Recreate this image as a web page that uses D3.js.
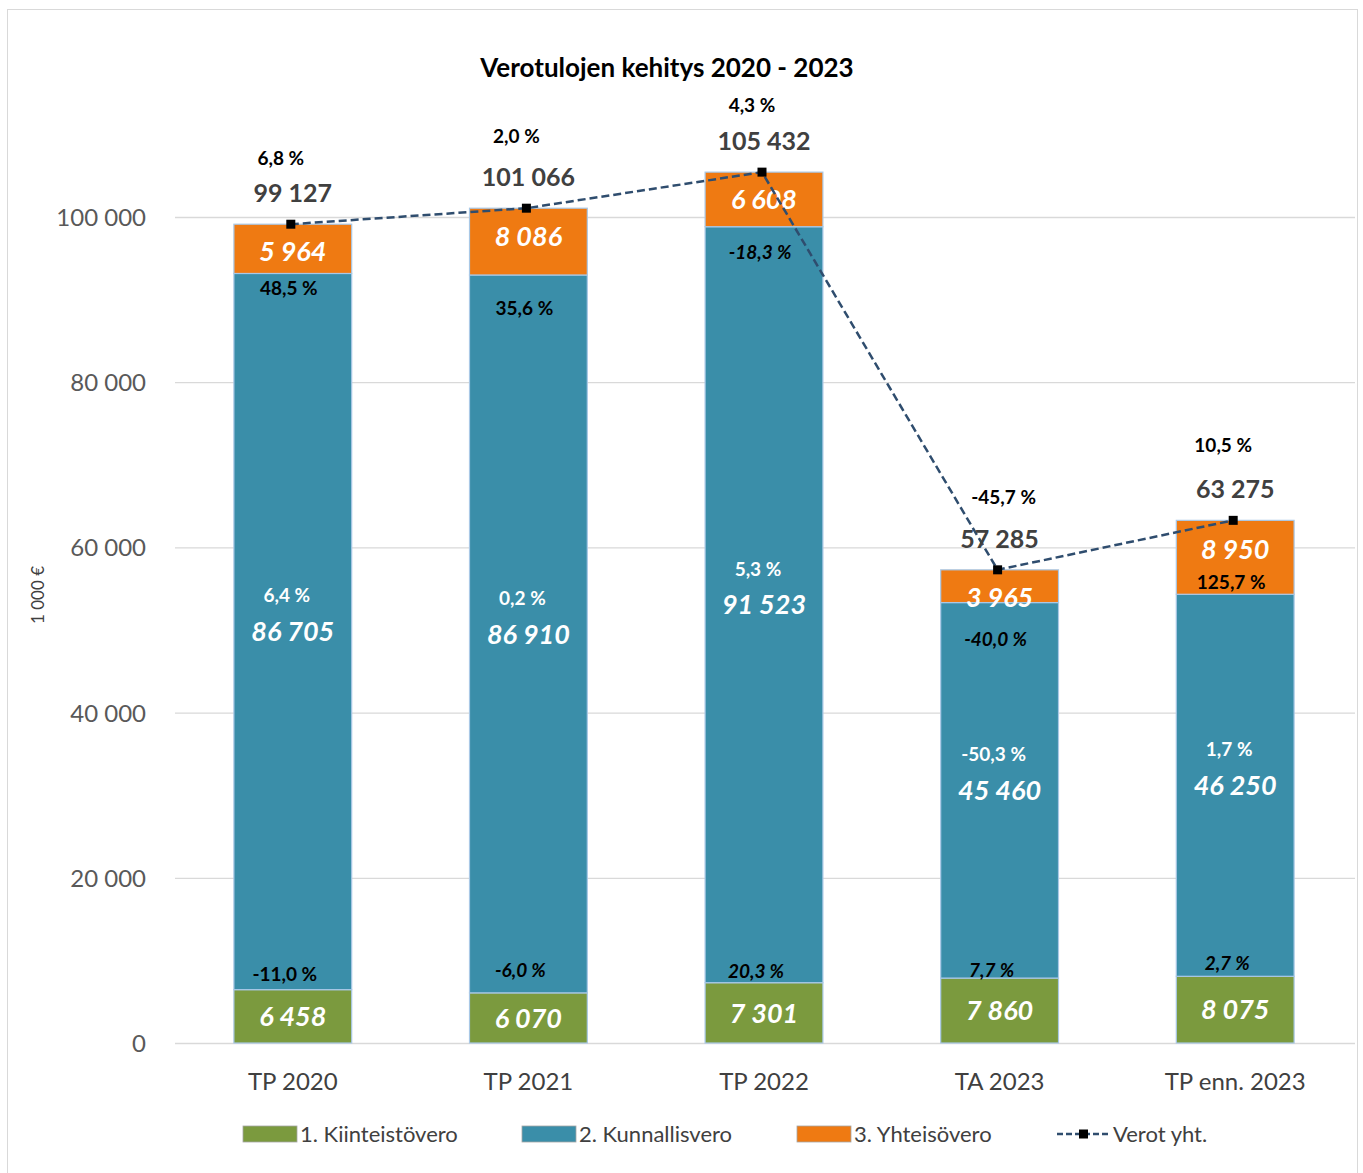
<!DOCTYPE html>
<html>
<head>
<meta charset="utf-8">
<script src="https://cdn.jsdelivr.net/npm/d3@7"></script>
<style>
  body { margin: 0; background: #fff; }
  text { font-family: Lato, "Open Sans", sans-serif; }
</style>
</head>
<body>
<script>
var years = ["TP 2020", "TP 2021", "TP 2022", "TA 2023", "TP enn. 2023"];
var kiinteisto = [6458, 6070, 7301, 7860, 8075];
var kunnallis = [86705, 86910, 91523, 45460, 46250];
var yhteiso = [5964, 8086, 6608, 3965, 8950];
var totals = [99127, 101066, 105432, 57285, 63275];
var kiintPct = ["-11,0 %", "-6,0 %", "20,3 %", "7,7 %", "2,7 %"];
var kunPct = ["6,4 %", "0,2 %", "5,3 %", "-50,3 %", "1,7 %"];
var yhtPct = ["48,5 %", "35,6 %", "-18,3 %", "-40,0 %", "125,7 %"];
var totPct = ["6,8 %", "2,0 %", "4,3 %", "-45,7 %", "10,5 %"];
var yTicks = [0, 20000, 40000, 60000, 80000, 100000];
var seriesNames = ["1. Kiinteistövero", "2. Kunnallisvero", "3. Yhteisövero"];

// label nudges (layout only)
var yhtPctDy = [15, 33, 25, 37, -12];
var yhtValDy = [2, -5, 0, 11, -8];
var yhtPctItalic = [false, false, true, true, false];
var kiintPctDy = [-15, -23, -12, -8, -13];
var totPctDy = [-35, -41, -36, -42, -44];

var W = 1363, H = 1173;
var colors = ["#7b9a3e", "#3a8ea9", "#ef7a12"];
var fmt = function(v) { return d3.format(",")(v).replace(/,/g, " "); };

var svg = d3.select("body").append("svg")
  .attr("width", W)
  .attr("height", H);

svg.append("rect")
  .attr("x", 7.5).attr("y", 9.5)
  .attr("width", 1350).attr("height", 1180)
  .attr("fill", "#fff")
  .attr("stroke", "#d9d9d9");

var x = d3.scaleBand().domain(years).range([175, 1353]).paddingInner(0.5).paddingOuter(0.25);
var y = d3.scaleLinear().domain([0, 100000]).range([1043, 217]);

// grid
svg.append("g").selectAll("line")
  .data(yTicks)
  .enter().append("line")
  .attr("x1", 175).attr("x2", 1355)
  .attr("y1", function(d) { return y(d) + 0.5; })
  .attr("y2", function(d) { return y(d) + 0.5; })
  .attr("stroke", "#d9d9d9")
  .attr("stroke-width", 1.3);

var yAxis = svg.append("g")
  .attr("transform", "translate(149,0)")
  .call(d3.axisLeft(y).tickValues(yTicks).tickSize(0).tickFormat(fmt));
yAxis.select(".domain").remove();
yAxis.selectAll("text")
  .attr("fill", "#595959")
  .style("font-size", "24px")
  .attr("dy", "0.35em");

var xAxis = svg.append("g")
  .attr("transform", "translate(0,1043)")
  .call(d3.axisBottom(x).tickSize(0).tickPadding(30));
xAxis.select(".domain").remove();
xAxis.selectAll("text")
  .attr("fill", "#404040")
  .style("font-size", "24px")
  .attr("dy", "0.7em");

svg.append("text")
  .attr("transform", "translate(44,595) rotate(-90)")
  .attr("text-anchor", "middle")
  .attr("fill", "#404040")
  .style("font-size", "17px")
  .text("1 000 €");

svg.append("text")
  .attr("x", 667).attr("y", 77)
  .attr("text-anchor", "middle")
  .attr("fill", "#000")
  .style("font-size", "26px")
  .style("font-weight", "bold")
  .text("Verotulojen kehitys 2020 - 2023");

// stacked bars
var table = years.map(function(yr, i) {
  return { year: yr, k: kiinteisto[i], u: kunnallis[i], h: yhteiso[i] };
});
var stack = d3.stack().keys(["k", "u", "h"])(table);

var layers = svg.append("g").selectAll("g")
  .data(stack)
  .enter().append("g")
  .attr("fill", function(d, i) { return colors[i]; });

layers.selectAll("rect")
  .data(function(d) { return d; })
  .enter().append("rect")
  .attr("x", function(d) { return x(d.data.year); })
  .attr("width", x.bandwidth())
  .attr("y", function(d) { return y(d[1]); })
  .attr("height", function(d) { return y(d[0]) - y(d[1]); })
  .attr("stroke", "#a9c8e6")
  .attr("stroke-width", 1.2);

// segment value labels
layers.selectAll("text")
  .data(function(d, k) { return d.map(function(p, i) { return { p: p, k: k, i: i }; }); })
  .enter().append("text")
  .attr("x", function(d) { return x(d.p.data.year) + x.bandwidth() / 2; })
  .attr("y", function(d) {
    var mid = (y(d.p[0]) + y(d.p[1])) / 2;
    return d.k === 2 ? mid + yhtValDy[d.i] : mid;
  })
  .attr("dy", "0.36em")
  .attr("text-anchor", "middle")
  .attr("fill", "#fff")
  .style("font-size", "27px")
  .style("font-weight", "bold")
  .style("font-style", "italic")
  .text(function(d) { return fmt(d.p[1] - d.p[0]); });

var cx = function(i) { return x(years[i]) + x.bandwidth() / 2; };
var pctG = svg.append("g")
  .style("font-size", "19px")
  .style("font-weight", "bold")
  .attr("text-anchor", "middle");

pctG.selectAll(".kp")
  .data(kiintPct)
  .enter().append("text")
  .attr("x", function(d, i) { return cx(i) - 8; })
  .attr("y", function(d, i) { return y(kiinteisto[i]) + kiintPctDy[i]; })
  .attr("dy", "0.36em")
  .attr("fill", "#000")
  .style("font-style", function(d, i) { return i === 0 ? "normal" : "italic"; })
  .text(function(d) { return d; });

pctG.selectAll(".up")
  .data(kunPct)
  .enter().append("text")
  .attr("x", function(d, i) { return cx(i) - 6; })
  .attr("y", function(d, i) { return y(kiinteisto[i] + kunnallis[i] / 2) - 36; })
  .attr("dy", "0.36em")
  .attr("fill", "#fff")
  .text(function(d) { return d; });

pctG.selectAll(".hp")
  .data(yhtPct)
  .enter().append("text")
  .attr("x", function(d, i) { return cx(i) - 4; })
  .attr("y", function(d, i) { return y(kiinteisto[i] + kunnallis[i]) + yhtPctDy[i]; })
  .attr("dy", "0.36em")
  .attr("fill", "#000")
  .style("font-style", function(d, i) { return yhtPctItalic[i] ? "italic" : "normal"; })
  .text(function(d) { return d; });

// total line
var line = d3.line()
  .x(function(d, i) { return cx(i) - 2; })
  .y(function(d) { return y(d); });

svg.append("path")
  .datum(totals)
  .attr("d", line)
  .attr("fill", "none")
  .attr("stroke", "#2f4d6e")
  .attr("stroke-width", 2.5)
  .attr("stroke-dasharray", "8,4");

svg.append("g").selectAll("rect")
  .data(totals)
  .enter().append("rect")
  .attr("x", function(d, i) { return cx(i) - 2 - 4.5; })
  .attr("y", function(d) { return y(d) - 4.5; })
  .attr("width", 9).attr("height", 9)
  .attr("fill", "#000");

svg.append("g").selectAll("text")
  .data(totals)
  .enter().append("text")
  .attr("x", function(d, i) { return cx(i); })
  .attr("y", function(d) { return y(d) - 31; })
  .attr("dy", "0.36em")
  .attr("text-anchor", "middle")
  .attr("fill", "#404040")
  .style("font-size", "25px")
  .style("font-weight", "bold")
  .text(fmt);

pctG.selectAll(".tp")
  .data(totPct)
  .enter().append("text")
  .attr("x", function(d, i) { return cx(i) - 12 + (i === 3 ? 16 : 0); })
  .attr("y", function(d, i) { return y(totals[i]) - 31 + totPctDy[i]; })
  .attr("dy", "0.36em")
  .attr("fill", "#000")
  .text(function(d) { return d; });

// legend
var legend = svg.append("g").attr("transform", "translate(0,1134)");
var legX = [243, 522, 797];
seriesNames.forEach(function(name, i) {
  legend.append("rect")
    .attr("x", legX[i]).attr("y", -8)
    .attr("width", 54).attr("height", 16)
    .attr("fill", colors[i])
    .attr("stroke", "#a6a6a6")
    .attr("stroke-width", 0.8);
  legend.append("text")
    .attr("x", legX[i] + 57).attr("y", 0)
    .attr("dy", "0.35em")
    .attr("fill", "#404040")
    .style("font-size", "22px")
    .text(name);
});
legend.append("line")
  .attr("x1", 1057).attr("x2", 1110)
  .attr("y1", 0).attr("y2", 0)
  .attr("stroke", "#2f4d6e")
  .attr("stroke-width", 2.5)
  .attr("stroke-dasharray", "6,3");
legend.append("rect")
  .attr("x", 1079).attr("y", -4.5)
  .attr("width", 9).attr("height", 9)
  .attr("fill", "#000");
legend.append("text")
  .attr("x", 1113).attr("y", 0)
  .attr("dy", "0.35em")
  .attr("fill", "#404040")
  .style("font-size", "22px")
  .text("Verot yht.");
</script>
</body>
</html>
